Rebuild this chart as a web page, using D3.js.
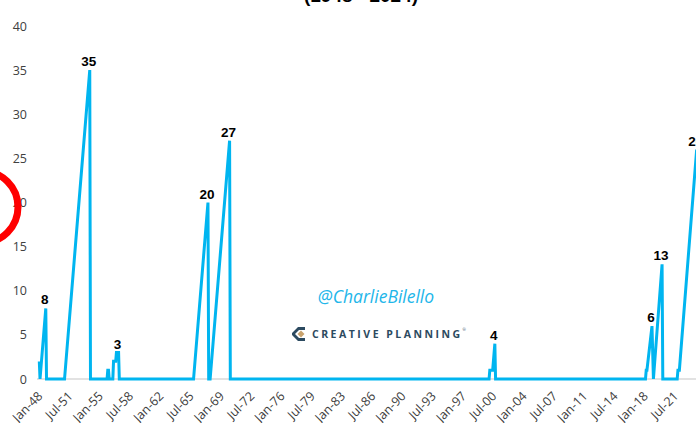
<!DOCTYPE html>
<html>
<head>
<meta charset="utf-8">
<script src="https://cdn.jsdelivr.net/npm/d3@7"></script>
<style>
  html, body { margin: 0; padding: 0; background: #ffffff; }
  svg { display: block; }
</style>
</head>
<body>
<script>
// ---- data ----
const months = ["1948-01","1948-02","1948-10","1948-11","1950-12","1953-11","1953-12",
  "1955-11","1955-12","1956-01","1956-02","1956-07","1956-08","1956-11","1956-12","1957-03","1957-04",
  "1965-11","1967-07","1967-08","1967-10","1970-01","1970-02",
  "2000-01","2000-02","2000-06","2000-09","2000-10",
  "2018-02","2018-03","2018-04","2018-11","2019-01","2020-01","2020-02",
  "2021-10","2021-11","2022-01","2024-01"];
const values = [2,0,8,0,0,35,0,
  0,1,1,0,0,2,2,3,3,0,
  0,20,0,0,27,0,
  0,1,1,4,0,
  0,1,1,6,0,13,0,
  0,1,1,26];
const labelMonths = ["1948-10","1953-11","1957-03","1967-07","1970-01","2000-09","2018-11","2020-01","2024-01"];
const xTickLabels = ["Jan-48","Jul-51","Jan-55","Jul-58","Jan-62","Jul-65","Jan-69","Jul-72","Jan-76",
  "Jul-79","Jan-83","Jul-86","Jan-90","Jul-93","Jan-97","Jul-00","Jan-04","Jul-07","Jan-11",
  "Jul-14","Jan-18","Jul-21"];
const yTicks = [0,5,10,15,20,25,30,35,40];
const titleText = "(1948 - 2024)";
const handle = "@CharlieBilello";
const brand = "CREATIVE PLANNING";

// ---- helpers ----
const monIdx = s => { const [y, m] = s.split("-").map(Number); return (y - 1948) * 12 + (m - 1); };
const mon = {Jan:0,Feb:1,Mar:2,Apr:3,May:4,Jun:5,Jul:6,Aug:7,Sep:8,Oct:9,Nov:10,Dec:11};
const tickIdx = s => { const [m, yy] = s.split("-"); const y = +yy < 30 ? 2000 + +yy : 1900 + +yy; return (y - 1948) * 12 + mon[m]; };

const W = 696, H = 423;
const svg = d3.select("body").append("svg").attr("width", W).attr("height", H);

const x = d3.scaleLinear().domain([0, 923]).range([39.3, 39.3 + 923 * 0.7208]);
const y = d3.scaleLinear().domain([0, 40]).range([379, 26]);

// title (mostly cropped at top)
svg.append("text").attr("x", 361).attr("y", 1.5).attr("text-anchor", "middle")
  .attr("font-family", "Liberation Sans, Arial, sans-serif").attr("font-weight", "bold")
  .attr("font-size", 19).attr("fill", "#000").text(titleText);

// y axis labels
const yAxis = d3.axisLeft(y).tickValues(yTicks).tickSize(0).tickPadding(0);
const yg = svg.append("g").attr("transform", "translate(27,0)").call(yAxis);
yg.select(".domain").remove();
yg.selectAll("text").attr("font-family", "Open Sans, sans-serif").attr("font-size", 12.5)
  .attr("fill", "#404040");

// x axis baseline
svg.append("line").attr("x1", 37).attr("x2", W + 20).attr("y1", y(0)).attr("y2", y(0))
  .attr("stroke", "#d9d9d9").attr("stroke-width", 1.5);

// x axis tick labels
const xg = svg.append("g");
xg.selectAll("text").data(xTickLabels).join("text")
  .attr("transform", d => `translate(${x(tickIdx(d)) + 4},${397}) rotate(-45)`)
  .attr("text-anchor", "end")
  .attr("font-family", "Open Sans, sans-serif").attr("font-size", 12.5)
  .attr("fill", "#404040").text(d => d);

// line
const pts = months.map((m, i) => ({ i: monIdx(m), v: values[i] }));
const line = d3.line().x(d => x(d.i)).y(d => y(d.v));
svg.append("path").datum(pts).attr("d", line).attr("fill", "none")
  .attr("stroke", "#00B5F0").attr("stroke-width", 3).attr("stroke-linejoin", "miter")
  .attr("stroke-miterlimit", 4);

// data labels
svg.append("g").selectAll("text").data(labelMonths).join("text")
  .attr("x", d => x(monIdx(d)) - 1)
  .attr("y", d => y(values[months.indexOf(d)]) - 4)
  .attr("text-anchor", "middle")
  .attr("font-family", "Liberation Sans, Arial, sans-serif").attr("font-weight", "bold")
  .attr("font-size", 13.5).attr("fill", "#000")
  .text(d => values[months.indexOf(d)]);

// watermark
svg.append("text").attr("x", 376).attr("y", 303).attr("text-anchor", "middle")
  .attr("font-family", "Open Sans, sans-serif").attr("font-style", "italic")
  .attr("font-size", 17.5).attr("fill", "#22B6EA").text(handle);

// brand logo
const lg = svg.append("g").attr("transform", "translate(299,334)");
lg.append("path").attr("d", "M6,-7 L-1,-7 L-7,-1 L-7,1 L-1,7 L6,7 L6,4 L0,4 L-4,0 L0,-4 L6,-4 Z")
  .attr("fill", "#2C4A60");
lg.append("path").attr("d", "M2,-3.5 L5.5,0 L2,3.5 L-1.5,0 Z").attr("fill", "#C9A36E");
svg.append("text").attr("x", 312).attr("y", 338).attr("font-family", "Open Sans, sans-serif")
  .attr("font-weight", "bold").attr("font-size", 10.5).attr("letter-spacing", 2.5)
  .attr("fill", "#2C4A60").text(brand);
svg.append("text").attr("x", 462.5).attr("y", 331).attr("font-family", "Open Sans, sans-serif")
  .attr("font-size", 4).attr("fill", "#2C4A60").text("®");

// red circle annotation (cropped at left)
svg.append("circle").attr("cx", -18).attr("cy", 207).attr("r", 36)
  .attr("fill", "none").attr("stroke", "#FF0000").attr("stroke-width", 7);
</script>
</body>
</html>
